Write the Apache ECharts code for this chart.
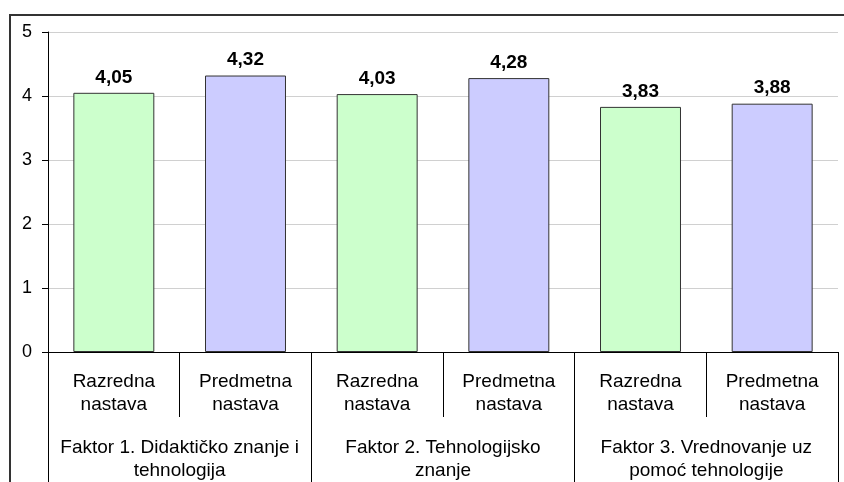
<!DOCTYPE html>
<html>
<head>
<meta charset="utf-8">
<script src="https://cdn.jsdelivr.net/npm/echarts@6/dist/echarts.min.js"></script>
<style>
html,body{margin:0;padding:0;background:#fff;}
#c{width:844px;height:482px;}
</style>
</head>
<body>
<div id="c"></div>
<script>
var categories = ['Razredna\nnastava', 'Predmetna\nnastava', 'Razredna\nnastava', 'Predmetna\nnastava', 'Razredna\nnastava', 'Predmetna\nnastava'];
var groups = ['Faktor 1. Didaktičko znanje i\ntehnologija', 'Faktor 2. Tehnologijsko\nznanje', 'Faktor 3. Vrednovanje uz\npomoć tehnologije'];
var values = [4.05, 4.32, 4.03, 4.28, 3.83, 3.88];
var yTicks = [0, 1, 2, 3, 4, 5];
var colors = ['#ccffcc', '#ccccff'];

var font = 'Liberation Sans, Arial, sans-serif';
var chart = echarts.init(document.getElementById('c'), null, {renderer: 'canvas'});
chart.setOption({
  animation: false,
  graphic: [{
    type: 'rect',
    shape: {x: 10, y: 15, width: 900, height: 600},
    style: {fill: 'none', stroke: '#333', lineWidth: 2},
    z: 100
  }],
  grid: {left: 48, top: 32, right: 6, bottom: 130},
  xAxis: [{
    type: 'category',
    data: categories,
    axisLine: {show: true, lineStyle: {color: '#000', width: 1}},
    axisTick: {show: true, length: 65, interval: 0, lineStyle: {color: '#000'}},
    axisLabel: {interval: 0, margin: 18, color: '#000', fontSize: 19, fontFamily: font, lineHeight: 23}
  }, {
    type: 'category',
    data: groups,
    position: 'bottom',
    axisLine: {show: false},
    axisTick: {show: true, length: 130, interval: 0, lineStyle: {color: '#000'}},
    axisLabel: {interval: 0, margin: 84, color: '#000', fontSize: 19, fontFamily: font, lineHeight: 23}
  }],
  yAxis: {
    type: 'value',
    min: 0, max: 5, interval: 1,
    axisLine: {show: true, lineStyle: {color: '#000', width: 1}},
    axisTick: {show: true, length: 6, lineStyle: {color: '#000'}},
    splitLine: {show: true, lineStyle: {color: '#d0d0d0'}},
    axisLabel: {margin: 16, color: '#000', fontSize: 18, fontFamily: font,
      formatter: function (v) { return yTicks.indexOf(v) >= 0 ? String(v) : ''; }}
  },
  series: [{
    type: 'bar',
    xAxisIndex: 0,
    barWidth: '61.5%',
    data: values.map(function (v, i) {
      return {value: v, itemStyle: {color: colors[i % 2], borderColor: '#333', borderWidth: 1}};
    }),
    label: {
      show: true, position: 'top', distance: 6,
      color: '#000', fontSize: 19, fontWeight: 'bold', fontFamily: font,
      formatter: function (p) { return p.value.toFixed(2).replace('.', ','); }
    }
  }]
});
</script>
</body>
</html>
